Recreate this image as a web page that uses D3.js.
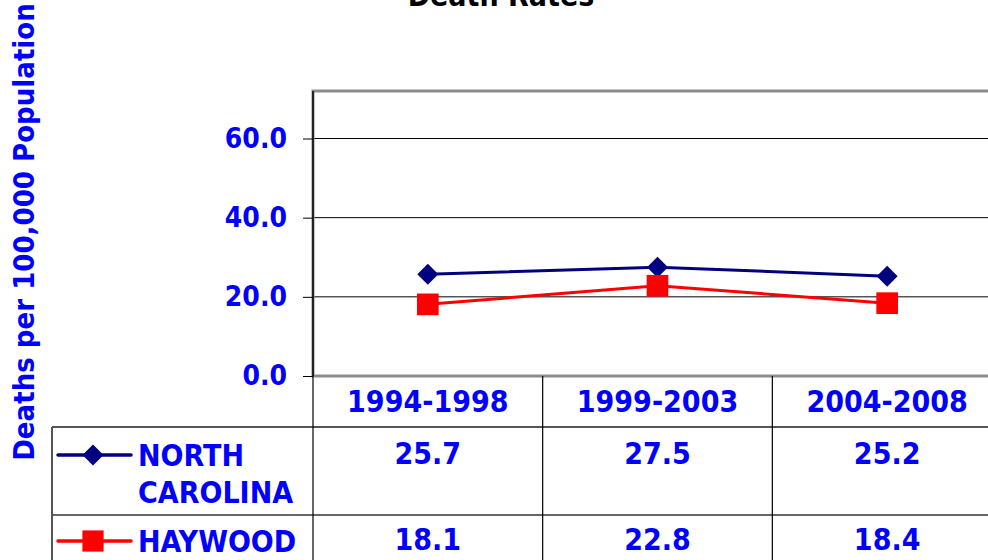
<!DOCTYPE html>
<html lang="en">
<head>
<meta charset="UTF-8">
<title>Death Rates</title>
<style>
  body, html { margin: 0; padding: 0; overflow: hidden; background: #fff; }
  svg text { font-family: "DejaVu Sans Condensed", "DejaVu Sans", sans-serif; font-weight: bold; }
</style>
</head>
<body>
<div id="chart"></div>
<script src="https://d3js.org/d3.v7.min.js"></script>
<script>
// chart data
const periods = ["1994-1998", "1999-2003", "2004-2008"];
const ncRates = [25.7, 27.5, 25.2];
const haywoodRates = [18.1, 22.8, 18.4];
const yTicks = [0, 20, 40, 60];

const series = [
  { name: ["NORTH", "CAROLINA"], values: ncRates, color: "#000080", marker: "diamond" },
  { name: ["HAYWOOD"], values: haywoodRates, color: "#ff0000", marker: "square" }
];

const W = 988, H = 560;
const svg = d3.select("#chart").append("svg")
  .attr("width", W).attr("height", H);

// plot area
const plotLeft = 313, plotRight = 1002;
const x = d3.scaleBand().domain(periods).range([plotLeft, plotRight]);
const y = d3.scaleLinear().domain([0, 72]).range([376, 91]);

// title (partly off the top, like the source)
svg.append("text")
  .attr("x", 501).attr("y", 6)
  .attr("text-anchor", "middle")
  .attr("font-size", 30)
  .attr("fill", "#000")
  .text("Death Rates");

// y axis title
svg.append("text")
  .attr("transform", "translate(34,232) rotate(-90)")
  .attr("text-anchor", "middle")
  .attr("font-size", 29)
  .attr("fill", "#0000ff")
  .text("Deaths per 100,000 Population");

// gridlines
svg.append("g").selectAll("line")
  .data(yTicks.filter(d => d > 0))
  .join("line")
  .attr("x1", plotLeft).attr("x2", plotRight)
  .attr("y1", d => y(d)).attr("y2", d => y(d))
  .attr("stroke", "#000").attr("stroke-width", 1);

// plot frame (gray)
svg.append("rect")
  .attr("x", plotLeft).attr("y", y(72))
  .attr("width", plotRight - plotLeft).attr("height", y(0) - y(72))
  .attr("fill", "none").attr("stroke", "#8c8c8c").attr("stroke-width", 3);

// y axis
const yAxis = svg.append("g")
  .attr("transform", `translate(${plotLeft},0)`)
  .call(d3.axisLeft(y).tickValues(yTicks).tickSize(10).tickPadding(16).tickFormat(d3.format(".1f")));
yAxis.select(".domain").attr("stroke", "#000").attr("stroke-width", 1.5)
  .attr("d", `M0,${y(72)}V${y(0)}`);
yAxis.selectAll(".tick line").attr("stroke", "#000");
yAxis.selectAll(".tick text")
  .attr("font-size", 28).attr("fill", "#0000ff")
  .attr("font-family", "'DejaVu Sans Condensed', 'DejaVu Sans', sans-serif")
  .attr("font-weight", "bold");

// lines and markers
const line = d3.line()
  .x((d, i) => x(periods[i]) + x.bandwidth() / 2)
  .y(d => y(d));

series.forEach(s => {
  svg.append("path")
    .datum(s.values)
    .attr("d", line)
    .attr("fill", "none")
    .attr("stroke", s.color)
    .attr("stroke-width", 3);
  const sym = s.marker === "diamond"
    ? d3.symbol().type(d3.symbolSquare).size(220)
    : d3.symbol().type(d3.symbolSquare).size(470);
  svg.append("g").selectAll("path")
    .data(s.values)
    .join("path")
    .attr("d", sym)
    .attr("fill", s.color)
    .attr("transform", (d, i) => `translate(${x(periods[i]) + x.bandwidth() / 2},${y(d)})` + (s.marker === "diamond" ? " rotate(45)" : ""));
});

// data table
const tableLeft = 52;
const headerBottom = 427, row1Bottom = 515;
const grid = svg.append("g");

grid.append("line").attr("x1", tableLeft).attr("x2", W)
  .attr("y1", headerBottom).attr("y2", headerBottom)
  .attr("stroke", "#555").attr("stroke-width", 2);
grid.append("line").attr("x1", tableLeft).attr("x2", W)
  .attr("y1", row1Bottom).attr("y2", row1Bottom)
  .attr("stroke", "#333").attr("stroke-width", 1.5);
grid.append("line").attr("x1", tableLeft).attr("x2", tableLeft)
  .attr("y1", headerBottom).attr("y2", H)
  .attr("stroke", "#555").attr("stroke-width", 2);
grid.selectAll(".vline")
  .data(periods)
  .join("line")
  .attr("class", "vline")
  .attr("x1", d => x(d)).attr("x2", d => x(d))
  .attr("y1", y(0)).attr("y2", H)
  .attr("stroke", "#000").attr("stroke-width", 1.2);

// header labels
svg.append("g").selectAll("text")
  .data(periods)
  .join("text")
  .attr("x", d => x(d) + x.bandwidth() / 2)
  .attr("y", 412)
  .attr("text-anchor", "middle")
  .attr("font-size", 30)
  .attr("fill", "#0000ff")
  .text(d => d);

// rows
const rowTextY = [466, 552];
series.forEach((s, r) => {
  const cy = rowTextY[r] - 11;
  // legend key
  svg.append("line")
    .attr("x1", 58).attr("x2", 131)
    .attr("y1", cy).attr("y2", cy)
    .attr("stroke", s.color).attr("stroke-width", 3.5)
    .attr("stroke-linecap", "round");
  svg.append("path")
    .attr("d", s.marker === "diamond"
      ? d3.symbol().type(d3.symbolSquare).size(220)()
      : d3.symbol().type(d3.symbolSquare).size(450)())
    .attr("fill", s.color)
    .attr("transform", `translate(93,${cy})` + (s.marker === "diamond" ? " rotate(45)" : ""));
  // row label
  const lbl = svg.append("text")
    .attr("x", 138).attr("y", rowTextY[r])
    .attr("font-size", 30)
    .attr("fill", "#0000ff");
  s.name.forEach((t, i) => {
    lbl.append("tspan").attr("x", 138).attr("dy", i === 0 ? 0 : 37).text(t);
  });
  // values
  svg.append("g").selectAll("text")
    .data(s.values)
    .join("text")
    .attr("x", (d, i) => x(periods[i]) + x.bandwidth() / 2)
    .attr("y", rowTextY[r] - 2)
    .attr("text-anchor", "middle")
    .attr("font-size", 30)
    .attr("fill", "#0000ff")
    .text(d => d3.format(".1f")(d));
});
</script>
</body>
</html>
